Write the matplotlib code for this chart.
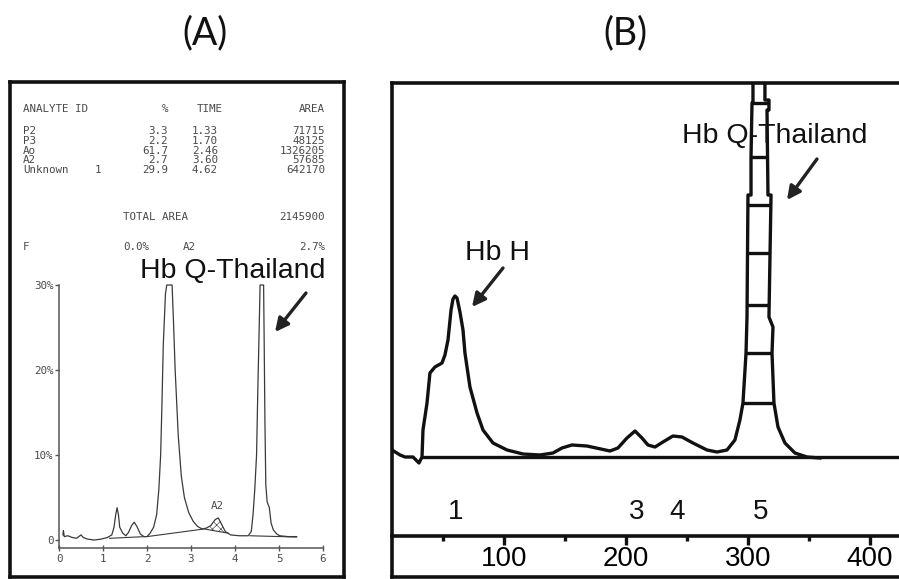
import numpy as np
import matplotlib
matplotlib.use("Agg")
import matplotlib.pyplot as plt
from matplotlib.ticker import FixedLocator

# ---------------- Panel A: HPLC report ----------------
report_header = ["ANALYTE ID", "%", "TIME", "AREA"]
analytes = ["P2", "P3", "Ao", "A2", "Unknown"]
analyte_index = ["", "", "", "", "1"]
percent = [3.3, 2.2, 61.7, 2.7, 29.9]
ret_time = [1.33, 1.70, 2.46, 3.60, 4.62]
area = [71715, 48125, 1326205, 57685, 642170]
total_area = 2145900
f_percent = 0.0
a2_percent = 2.7

time_ticks = [0, 1, 2, 3, 4, 5, 6]
pct_ticks = [0, 10, 20, 30]
pct_tick_labels = ["0", "10%", "20%", "30%"]

trace_a_time = [0.09, 0.10, 0.12, 0.20, 0.30, 0.40, 0.45, 0.50, 0.55, 0.65, 0.80,
                0.95, 1.10, 1.20, 1.25, 1.29, 1.32, 1.35, 1.38, 1.45, 1.52, 1.58,
                1.65, 1.71, 1.77, 1.85, 1.93, 2.00, 2.07, 2.15, 2.22, 2.27, 2.31,
                2.34, 2.37, 2.42, 2.45, 2.57, 2.60, 2.64, 2.71, 2.78, 2.85, 2.95,
                3.05, 3.15, 3.25, 3.35, 3.45, 3.55, 3.62, 3.70, 3.78, 3.90, 4.10,
                4.30, 4.37, 4.41, 4.45, 4.49, 4.52, 4.55, 4.57, 4.65, 4.66, 4.68,
                4.70, 4.73, 4.78, 4.82, 4.87, 4.95, 5.02, 5.20, 5.40]
trace_a_pct = [0.6, 1.1, 0.4, 0.5, 0.3, 0.2, 0.4, 0.6, 0.3, 0.1, 0.0,
               0.1, 0.3, 0.6, 1.5, 3.0, 3.8, 3.0, 1.5, 0.8, 0.5, 0.9,
               1.7, 2.1, 1.6, 0.7, 0.4, 0.4, 0.8, 1.5, 3.0, 6.0, 10.0,
               16.0, 23.0, 29.0, 30.0, 30.0, 26.0, 20.0, 12.3, 7.5, 5.0, 3.2,
               2.2, 1.6, 1.3, 1.4, 1.7, 2.4, 2.6, 1.8, 1.0, 0.6, 0.5,
               0.5, 1.0, 3.0, 6.0, 10.0, 18.0, 25.0, 30.0, 30.0, 25.0, 14.0,
               6.5, 4.5, 3.8, 2.0, 1.2, 0.7, 0.5, 0.4, 0.4]

# integration baselines drawn by the integrator
base1_time = [1.15, 1.95]
base1_pct = [0.2, 0.4]
base2_time = [2.00, 3.30, 3.85]
base2_pct = [0.4, 1.3, 0.8]
base3_time = [4.34, 5.40]
base3_pct = [0.5, 0.35]
a2_window = [3.35, 3.85]

# ---------------- Panel B: chromatogram ----------------
trace_b_x = [8.2, 14.8, 18.9, 25.4, 28.7, 30.3, 32.8, 33.6, 36.9, 39.3, 43.4, 49.2,
             51.6, 54.1, 56.6, 58.2, 59.8, 61.5, 63.9, 66.4, 68.0, 72.1, 77.9, 82.8,
             91.0, 102.5, 115.6, 129.5, 140.2, 147.5, 155.7, 168.0, 186.9, 193.4,
             200.8, 207.4, 213.1, 218.0, 223.8, 230.3, 238.5, 245.9, 254.9, 266.4,
             274.6, 282.8, 289.3, 293.4]
trace_b_y = [3.5, 1.0, 0.0, 0.0, -2.0, -3.0, 0.0, 13.5, 27.0, 42.0, 45.0, 47.0,
             51.0, 58.5, 73.5, 79.0, 80.5, 79.5, 72.5, 63.5, 52.0, 35.0, 22.0, 13.5,
             7.0, 3.5, 1.5, 1.0, 2.0, 4.5, 6.0, 5.5, 3.0, 4.5,
             9.5, 13.0, 9.5, 6.0, 5.0, 7.5, 10.5, 10.0, 7.0, 3.5,
             2.5, 3.5, 8.5, 18.5]
col_left_x = [295.9, 298.4, 299.2, 300.0, 302.5, 302.5, 303.3, 304.1, 304.1]
col_left_y = [27.0, 52.0, 70.0, 131.0, 131.0, 150.0, 177.0, 177.0, 200.0]
col_right_x = [313.9, 313.9, 317.2, 317.2, 315.6, 316.4, 318.9, 317.2, 320.5, 319.7, 321.3]
col_right_y = [200.0, 178.5, 178.5, 173.5, 173.5, 131.0, 131.0, 70.0, 65.0, 52.0, 27.0]
tail_b_x = [324.6, 330.3, 338.5, 348.4, 359.0]
tail_b_y = [15.0, 7.0, 2.0, 0.0, -0.5]
rung_levels = [27, 52, 76, 102, 126, 150, 177]
baseline_b_start = 32.8

peak_ids = ["1", "3", "4", "5"]
peak_pos = [60, 209, 242, 310]
scale_major = [100, 200, 300, 400]
scale_minor = [50, 150, 250, 350]

# ---------------- layout helpers ----------------
W, H = 899, 579
fig = plt.figure(figsize=(W / 100, H / 100), dpi=100)


def rect(l, t, r, b):
    return [l / W, 1 - b / H, (r - l) / W, (b - t) / H]


def fp(x, y):
    return x / W, 1 - y / H


SANS = ["Liberation Sans", "DejaVu Sans"]
MONO = ["DejaVu Sans Mono"]
INK = "#111111"
SCAN = "#3a3a3a"
PRINT = "#4a4a4a"
PSIZE = 7.8

# panel titles
fig.text(*fp(205, 33), "(A)", ha="center", va="center", fontsize=27,
         family=["Lato", "DejaVu Sans"], color=INK)
fig.text(*fp(625, 33), "(B)", ha="center", va="center", fontsize=27,
         family=["Lato", "DejaVu Sans"], color=INK)

# ---- Panel A frame ----
frame = fig.add_axes(rect(10, 82, 344, 577))
frame.set_xticks([])
frame.set_yticks([])
for s in frame.spines.values():
    s.set_linewidth(2.6)
    s.set_color(INK)

tkw = dict(family=MONO, fontsize=PSIZE, color=PRINT, va="center")
fig.text(*fp(23, 109), report_header[0], ha="left", **tkw)
fig.text(*fp(168, 109), report_header[1], ha="right", **tkw)
fig.text(*fp(197, 109), report_header[2], ha="left", **tkw)
fig.text(*fp(325, 109), report_header[3], ha="right", **tkw)

# result rows, one text block per column of the printout
rows_mid = 150.5
blk = dict(tkw, linespacing=0.95)
fig.text(*fp(23, rows_mid), "\n".join(analytes), ha="left",
         multialignment="left", **blk)
fig.text(*fp(95, rows_mid), "\n".join(analyte_index), ha="left",
         multialignment="left", **blk)
fig.text(*fp(168, rows_mid), "\n".join(f"{p:.1f}" for p in percent), ha="right",
         multialignment="right", **blk)
fig.text(*fp(218, rows_mid), "\n".join(f"{t:.2f}" for t in ret_time), ha="right",
         multialignment="right", **blk)
fig.text(*fp(325, rows_mid), "\n".join(str(a) for a in area), ha="right",
         multialignment="right", **blk)

fig.text(*fp(123, 217), "TOTAL AREA", ha="left", **tkw)
fig.text(*fp(325, 217), f"{total_area}", ha="right", **tkw)
fig.text(*fp(23, 247), "F", ha="left", **tkw)
fig.text(*fp(123, 247), f"{f_percent:.1f}%", ha="left", **tkw)
fig.text(*fp(183, 247), "A2", ha="left", **tkw)
fig.text(*fp(325, 247), f"{a2_percent:.1f}%", ha="right", **tkw)

# ---- Panel A chromatogram ----
axa = fig.add_axes(rect(59, 285, 323, 548))
axa.set_xlim(0, 6)
axa.set_ylim(-0.94, 30)
axa.patch.set_alpha(0)
for side in ("top", "right"):
    axa.spines[side].set_visible(False)
for side in ("left", "bottom"):
    axa.spines[side].set_linewidth(1.1)
    axa.spines[side].set_color("#555555")
axa.set_xticks(time_ticks)
axa.set_xticklabels([str(t) for t in time_ticks])
axa.set_yticks(pct_ticks)
axa.set_yticklabels(pct_tick_labels)
axa.tick_params(axis="x", direction="inout", length=5, width=1.0, color="#555555",
                labelsize=PSIZE, labelcolor=PRINT, pad=2)
axa.tick_params(axis="y", direction="out", length=3, width=1.0, color="#555555",
                labelsize=PSIZE, labelcolor=PRINT, pad=1)
for lab in axa.get_xticklabels() + axa.get_yticklabels():
    lab.set_family(MONO)

axa.plot(trace_a_time, trace_a_pct, color=SCAN, lw=0.9, clip_on=False)
axa.plot(base1_time, base1_pct, color=SCAN, lw=0.8)
axa.plot(base2_time, base2_pct, color=SCAN, lw=0.8)
axa.plot(base3_time, base3_pct, color=SCAN, lw=0.8)

ta = np.array(trace_a_time)
pa = np.array(trace_a_pct)
m = (ta >= a2_window[0]) & (ta <= a2_window[1])
plt.rcParams["hatch.linewidth"] = 0.5
axa.fill_between(ta[m], pa[m], np.interp(ta[m], base2_time, base2_pct),
                 facecolor="none", edgecolor="#555555", hatch="xxxx", lw=0)
axa.text(ret_time[3], 4.0, "A2", ha="center", va="center", family=MONO,
         fontsize=PSIZE, color=PRINT)

fig.text(*fp(140, 278), "Hb Q-Thailand", ha="left", va="baseline",
         fontsize=20.5, family=SANS, color=INK)
axa.annotate("", xy=(275, H - 332), xycoords="figure pixels",
             xytext=(306, H - 293), textcoords="figure pixels",
             arrowprops=dict(arrowstyle="-|>", lw=2.4, color="#222222",
                             mutation_scale=20, shrinkA=0, shrinkB=0))

# ---- Panel B ----
axb = fig.add_axes(rect(392, 83, 899, 577))
axb.set_xlim(8.2, 423.8)
axb.set_ylim(-60, 187)
axb.set_xticks([])
axb.set_yticks([])
axb.spines["right"].set_visible(False)
for side in ("left", "top", "bottom"):
    axb.spines[side].set_linewidth(2.6)
    axb.spines[side].set_color(INK)

LW = 2.4
outline_x = trace_b_x + col_left_x + col_right_x + tail_b_x
outline_y = trace_b_y + col_left_y + col_right_y + tail_b_y
axb.plot(outline_x, outline_y, color=INK, lw=LW, solid_joinstyle="round")

rl_y = np.array(col_left_y)
rl_x = np.array(col_left_x)
rr_y = np.array(col_right_y)[::-1]
rr_x = np.array(col_right_x)[::-1]
for lv in rung_levels:
    axb.plot([np.interp(lv, rl_y, rl_x), np.interp(lv, rr_y, rr_x)], [lv, lv],
             color=INK, lw=LW, solid_capstyle="butt")

axb.hlines(0, baseline_b_start, 430, color=INK, lw=LW)

for pid, x in zip(peak_ids, peak_pos):
    axb.text(x, -27.5, pid, ha="center", va="center", fontsize=20, family=SANS,
             color=INK)

sec = axb.secondary_xaxis((577 - 536) / (577 - 83))
sec.set_xticks(scale_major)
sec.set_xticklabels([str(v) for v in scale_major])
sec.xaxis.set_minor_locator(FixedLocator(scale_minor))
sec.spines["bottom"].set_linewidth(2.6)
sec.spines["bottom"].set_color(INK)
sec.tick_params(which="major", direction="out", length=6.5, width=2.4,
                color=INK, labelsize=20, pad=1)
sec.tick_params(which="minor", direction="out", length=3.5, width=2.4, color=INK)
for lab in sec.get_xticklabels():
    lab.set_family(SANS)

fig.text(*fp(682, 143), "Hb Q-Thailand", ha="left", va="baseline",
         fontsize=20.5, family=SANS, color=INK)
fig.text(*fp(465, 260), "Hb H", ha="left", va="baseline",
         fontsize=20.5, family=SANS, color=INK)
for (x0, y0), (x1, y1) in [((503, 268), (472, 307)), ((817, 159), (787, 200))]:
    axb.annotate("", xy=(x1, H - y1), xycoords="figure pixels",
                 xytext=(x0, H - y0), textcoords="figure pixels",
                 arrowprops=dict(arrowstyle="-|>", lw=2.4, color="#222222",
                                 mutation_scale=20, shrinkA=0, shrinkB=0))

fig.savefig("out.png", dpi=100)
